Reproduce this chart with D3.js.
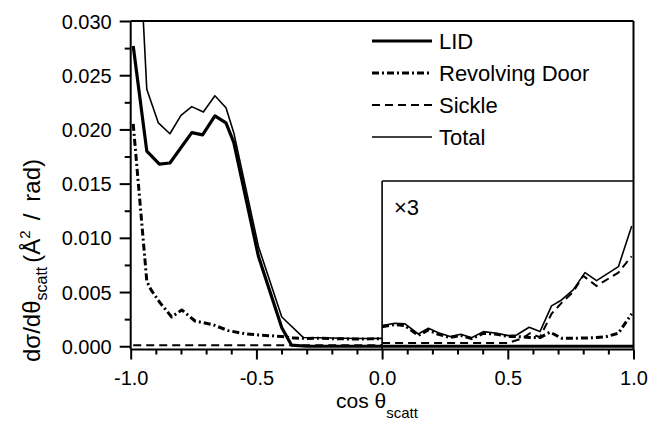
<!DOCTYPE html>
<html><head><meta charset="utf-8">
<script src="https://cdn.jsdelivr.net/npm/d3@7"></script>
<style>
body{margin:0;background:#fff}
svg{display:block}
text{font-family:"Liberation Sans",Arial,Helvetica,sans-serif;fill:#000}
</style>
</head><body>
<svg id="c" width="652" height="422"></svg>
<script>
// ---- data (left panel: real values, cos θ from -1 to 0) ----
const lidX   = [-0.99,-0.936,-0.886,-0.844,-0.757,-0.714,-0.665,-0.621,-0.59,-0.492,-0.399,-0.36,-0.3,-0.2,-0.1,0.0];
const lidY   = [0.0277,0.0180,0.0168,0.0169,0.0197,0.0195,0.02125,0.0206,0.0188,0.0083,0.0017,0.0001,0,0,0,0];
const rdX    = [-0.99,-0.936,-0.919,-0.883,-0.837,-0.797,-0.744,-0.671,-0.612,-0.539,-0.492,-0.4,-0.35,-0.3,-0.25,-0.2,-0.15,-0.1,-0.05,0.0];
const rdY    = [0.0205,0.0060,0.0052,0.0040,0.0027,0.00335,0.00233,0.00197,0.00144,0.00113,0.00104,0.0009,0.00075,0.00072,0.00074,0.0007,0.00068,0.00066,0.00068,0.0007];
const sicX   = [-0.99,-0.5,0.0];
const sicY   = [0.0001,0.0001,0.0001];
const totX   = [-0.99,-0.936,-0.89,-0.844,-0.80,-0.757,-0.711,-0.665,-0.621,-0.59,-0.492,-0.399,-0.313,-0.25,-0.2,-0.15,-0.1,-0.05,0.0];
const totY   = [0.0483,0.0237,0.0206,0.0196,0.0213,0.0221,0.0216,0.0231,0.0220,0.0197,0.0092,0.0027,0.0008,0.00078,0.00076,0.00074,0.00072,0.00072,0.00073];
// ---- inset (cos θ from 0 to 1, values shown ×3) ----
const insLidX = [0.0,0.5,1.0];
const insLidY = [0,0,0];
const insRdX  = [0.0,0.051,0.091,0.144,0.184,0.224,0.270,0.313,0.356,0.403,0.456,0.502,0.535,0.585,0.628,0.668,0.714,0.760,0.807,0.853,0.894,0.940,0.993];
const insRdY  = [0.0018,0.0020,0.0019,0.0010,0.0015,0.0011,0.0008,0.0010,0.0007,0.0012,0.0011,0.0009,0.0009,0.0008,0.0008,0.0013,0.00074,0.00074,0.00076,0.0008,0.0009,0.0012,0.0030];
const insSicX = [0.0,0.1,0.2,0.3,0.4,0.5,0.56,0.588,0.628,0.674,0.714,0.760,0.800,0.853,0.940,0.993];
const insSicY = [0.0003,0.0003,0.0003,0.0003,0.0003,0.0003,0.00074,0.0012,0.00083,0.0030,0.0040,0.0050,0.0065,0.00556,0.0068,0.0083];
const insTotX = [0.0,0.051,0.091,0.144,0.184,0.224,0.270,0.313,0.356,0.403,0.456,0.502,0.535,0.585,0.628,0.674,0.714,0.760,0.807,0.853,0.940,0.993];
const insTotY = [0.0019,0.00212,0.00206,0.00113,0.00166,0.00125,0.00089,0.00111,0.00079,0.00135,0.0012,0.00098,0.00104,0.00175,0.00135,0.00372,0.00427,0.0052,0.00679,0.00605,0.00734,0.0111];

const seriesNames = ["LID","Revolving Door","Sickle","Total"];
const yMajorTicks = [0,0.005,0.010,0.015,0.020,0.025,0.030];
const yMinorTicks = [0.0025,0.0075,0.0125,0.0175,0.0225,0.0275];
const xMajorTicks = [-1.0,-0.5,0.0,0.5,1.0];
const xMinorTicks = [-0.9,-0.8,-0.7,-0.6,-0.4,-0.3,-0.2,-0.1,0.1,0.2,0.3,0.4,0.6,0.7,0.8,0.9];
const insetLabel = "×3";

// ---- styles ----
const styles = {
  "LID":            {w:3.2, dash:null},
  "Revolving Door": {w:3.0, dash:"7,3,2,3"},
  "Sickle":         {w:2.0, dash:"8,5"},
  "Total":          {w:1.6, dash:null}
};

const L=130.7, R=633.5, T=21, B=349.5, insetTopPx=181;
const svg=d3.select("#c");
const x=d3.scaleLinear().domain([-1,1]).range([L,R]);
const y=d3.scaleLinear().domain([-0.0003,0.030]).range([B,T]);

svg.append("defs").append("clipPath").attr("id","clip")
  .append("rect").attr("x",L).attr("y",T).attr("width",R-L).attr("height",B-T);

const line=d3.line().x(d=>x(d[0])).y(d=>y(d[1]));
const zip=(a,b)=>a.map((v,i)=>[v,b[i]]);
const g=svg.append("g").attr("clip-path","url(#clip)");
function draw(name,xs,ys){
  const s=styles[name];
  g.append("path").datum(zip(xs,ys)).attr("d",line)
    .attr("fill","none").attr("stroke","#000").attr("stroke-width",s.w)
    .attr("stroke-dasharray",s.dash).attr("stroke-linejoin","round");
}
draw("Sickle",sicX,sicY);
draw("LID",lidX,lidY);
draw("Revolving Door",rdX,rdY);
draw("Total",totX,totY);
draw("Sickle",insSicX,insSicY);
draw("LID",insLidX,insLidY);
draw("Revolving Door",insRdX,insRdY);
draw("Total",insTotX,insTotY);

// frame
const fr=svg.append("g").attr("stroke","#000").attr("stroke-width",2).attr("fill","none");
fr.append("line").attr("x1",L).attr("x2",R).attr("y1",T).attr("y2",T);
fr.append("line").attr("x1",R).attr("x2",R).attr("y1",T).attr("y2",B);
fr.append("line").attr("x1",L).attr("x2",R).attr("y1",B).attr("y2",B);
fr.append("line").attr("x1",L).attr("x2",L).attr("y1",T).attr("y2",B);
// inset box
fr.append("line").attr("x1",x(0)).attr("x2",R).attr("y1",insetTopPx).attr("y2",insetTopPx).attr("stroke-width",1.6);
fr.append("line").attr("x1",x(0)).attr("x2",x(0)).attr("y1",insetTopPx).attr("y2",B).attr("stroke-width",1.6);

// axes
function styleAxis(sel){
  sel.select(".domain").remove();
  sel.selectAll(".tick line").attr("stroke","#000").attr("stroke-width",2);
  sel.selectAll("text").style("font-size","20px").attr("fill","#000");
}
const yAx=svg.append("g").attr("transform",`translate(${L},0)`)
  .call(d3.axisLeft(y).tickValues(yMajorTicks).tickSize(11).tickPadding(8).tickFormat(d=>d.toFixed(3)));
styleAxis(yAx);
yAx.selectAll("text").attr("dy","0.35em");
const yAxm=svg.append("g").attr("transform",`translate(${L},0)`)
  .call(d3.axisLeft(y).tickValues(yMinorTicks).tickSize(6).tickFormat(""));
styleAxis(yAxm);

const xAx=svg.append("g").attr("transform",`translate(0,${B})`)
  .call(d3.axisBottom(x).tickValues(xMajorTicks).tickSize(10).tickFormat(d=>d.toFixed(1)));
styleAxis(xAx);
xAx.selectAll("text").attr("y",35.5).attr("dy",0);
const xAxm=svg.append("g").attr("transform",`translate(0,${B})`)
  .call(d3.axisBottom(x).tickValues(xMinorTicks).tickSize(5).tickFormat(""));
styleAxis(xAxm);

// axis titles
const xt=svg.append("text").attr("x",336).attr("y",408).style("font-size","21px");
xt.append("tspan").text("cos θ");
xt.append("tspan").attr("dy",10).style("font-size","15px").text("scatt");

const yt=svg.append("text").attr("transform","translate(40,362) rotate(-90)").style("font-size","24px");
yt.append("tspan").text("dσ/dθ");
yt.append("tspan").attr("dy",7).style("font-size","16px").text("scatt");
yt.append("tspan").attr("dy",-7).attr("dx",4).text("(Å");
yt.append("tspan").attr("dy",-10).style("font-size","15px").text("2");
yt.append("tspan").attr("dy",10).attr("dx",10).text("/");
yt.append("tspan").attr("dx",12).text("rad)");

// inset label
svg.append("text").attr("x",394).attr("y",215).style("font-size","22px").text(insetLabel);

// legend
const lg=svg.append("g");
seriesNames.forEach((n,i)=>{
  const yy=41+i*32, s=styles[n];
  lg.append("line").attr("x1",372).attr("x2",432).attr("y1",yy).attr("y2",yy)
    .attr("stroke","#000").attr("stroke-width",s.w).attr("stroke-dasharray",s.dash);
  lg.append("text").attr("x",439).attr("y",yy).attr("dy","0.36em").style("font-size","22px").text(n);
});
</script>
</body></html>
